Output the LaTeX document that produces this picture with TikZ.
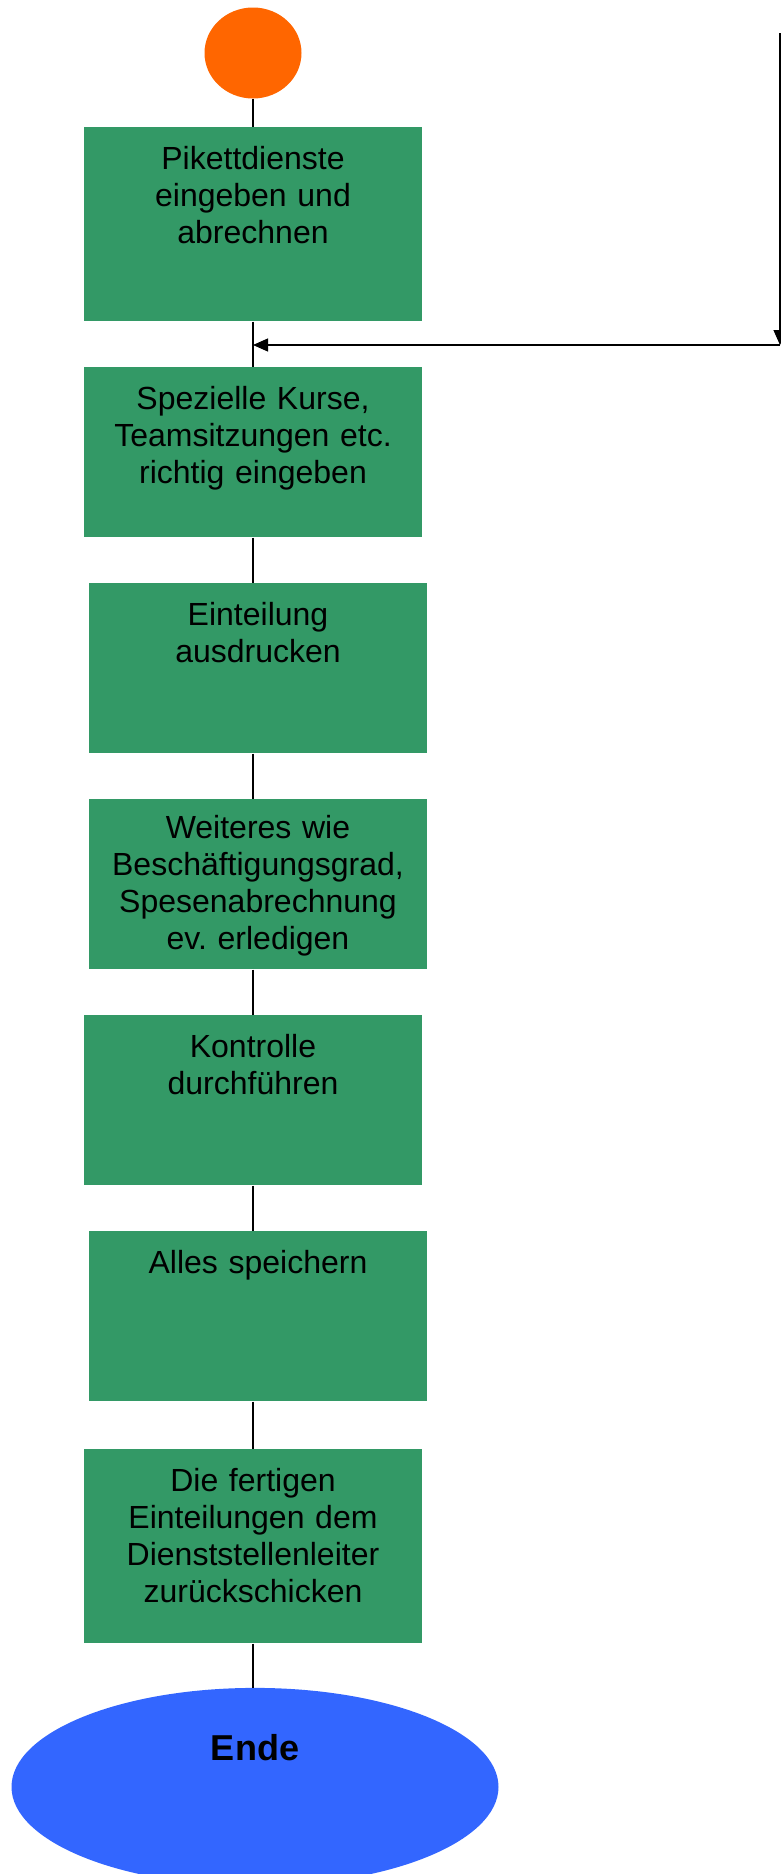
\documentclass[tikz,border=0pt]{standalone}
\usepackage{fontspec}
\setmainfont{Liberation Sans}
\usepackage{tikz}
\usetikzlibrary{positioning,arrows.meta,shapes.geometric}
\definecolor{gruen}{RGB}{51,153,102}
\definecolor{orange}{RGB}{255,102,0}
\definecolor{blau}{RGB}{51,102,255}
\frenchspacing

\begin{document}
\begin{tikzpicture}[
  x=0.5pt, y=-0.5pt,
  schritt/.style={rectangle, fill=gruen, minimum width=169pt, text width=160pt,
    align=center, inner xsep=4.5pt, inner ysep=0pt,
    font=\fontsize{16}{18.6}\selectfont, text height=21pt, text depth=64pt},
  schritthoch/.style={schritt, text depth=76pt},
  anfang/.style={ellipse, fill=orange, minimum width=48.5pt, minimum height=45.5pt, inner sep=0pt},
  ende/.style={ellipse, fill=blau, minimum width=243.5pt, minimum height=99pt, inner sep=0pt},
  linie/.style={line width=0.6pt, color=black},
  pfeil/.style={linie, -{Triangle[length=7.5pt,width=6.5pt]}},
  node distance=22.6pt
]
\useasboundingbox (0,0) rectangle (781,1874);
\clip (0,0) rectangle (781,1874);
\node[anfang] (start) at (253,53) {};
\node[schritthoch, below=14pt of start] (p1) {Pikettdienste\\eingeben und\\abrechnen};
\node[schritt, below=of p1] (p2) {Spezielle Kurse,\\Teamsitzungen etc.\\richtig eingeben};
\node[schritt, below=of p2, xshift=2.5pt] (p3) {Einteilung\\ausdrucken};
\node[schritt, below=of p3, text height=19.5pt, text depth=65.5pt] (p4) {Weiteres wie\\Beschäftigungsgrad,\\Spesenabrechnung\\ev. erledigen};
\node[schritt, below=of p4, xshift=-2.5pt] (p5) {Kontrolle\\durchführen};
\node[schritt, below=of p5, xshift=2.5pt] (p6) {Alles speichern};
\node[schritthoch, below=23.5pt of p6, xshift=-2.5pt] (p7) {Die fertigen\\Einteilungen dem\\Dienststellenleiter\\zurückschicken};
\node[ende, below=22pt of p7, xshift=1pt,
  label={[anchor=center, yshift=-30pt, font=\fontsize{18}{21}\selectfont\bfseries]north:Ende}] (ende) {};
\draw[linie] (start) -- (p1);
\draw[linie] (p1) -- (p2);
\draw[linie] (p2.south) -- (p3.north -| p1);
\draw[linie] (p3.south -| p1) -- (p4.north -| p1);
\draw[linie] (p4.south -| p1) -- (p5.north);
\draw[linie] (p5.south) -- (p6.north -| p1);
\draw[linie] (p6.south -| p1) -- (p7.north);
\draw[linie] (p7.south) -- (ende.north -| p1);
% Ruecksprung von rechts
\coordinate (rueck) at (780,33);
\coordinate (ecke) at (780,345);
\draw[pfeil] (rueck) -- (ecke);
\draw[pfeil] (ecke) -- (ecke -| p1);
\end{tikzpicture}
\end{document}
